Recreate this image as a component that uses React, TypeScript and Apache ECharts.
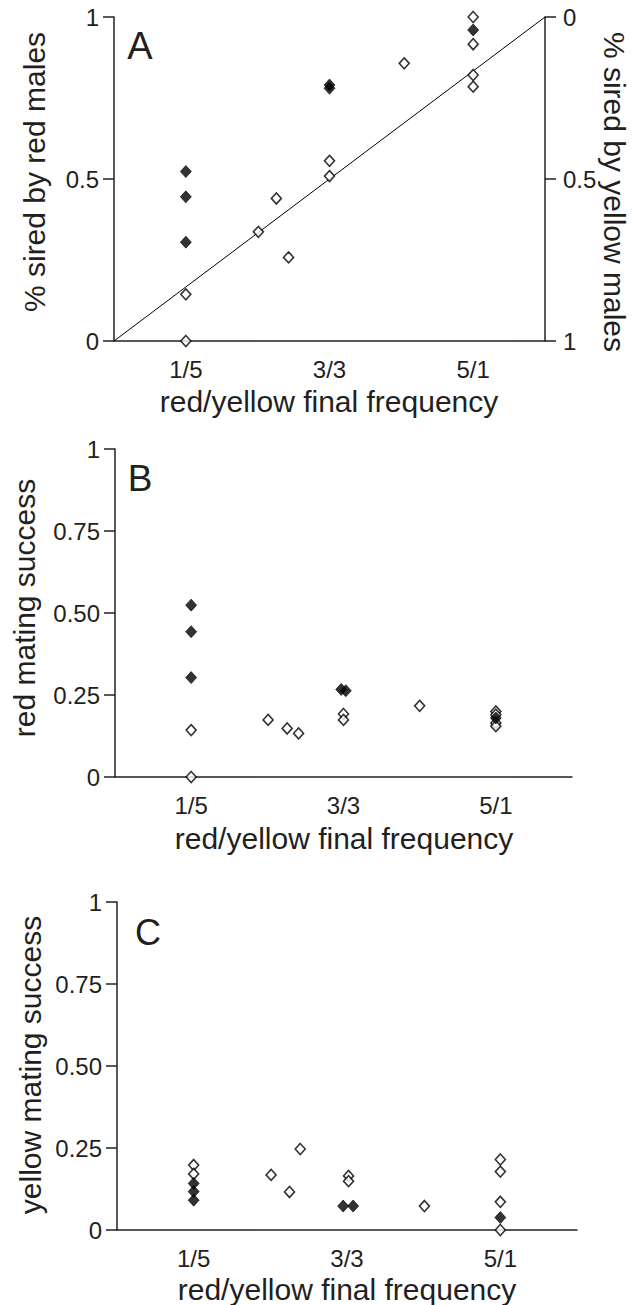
import React, { useEffect, useRef } from "react";
import * as echarts from "echarts";

// x positions: 1 = "1/5", 3 = "3/3", 5 = "5/1" (red/yellow final frequency)
const xTickLabels: Record<number, string> = { 1: "1/5", 3: "3/3", 5: "5/1" };

// Panel A: % sired by red males
const aFilled: number[][] = [
  [1, 0.523], [1, 0.445], [1, 0.305],
  [3, 0.79], [3, 0.78],
  [5, 0.96],
];
const aOpen: number[][] = [
  [1, 0.144], [1, 0],
  [2.01, 0.337], [2.26, 0.44], [2.43, 0.258],
  [3, 0.556], [3, 0.509],
  [4.04, 0.857],
  [5, 1.0], [5, 0.916], [5, 0.821], [5, 0.785],
];
const expectedLine: number[][] = [[0, 0], [6, 1]];

// Panel B: red mating success
const bFilled: number[][] = [
  [1, 0.524], [1, 0.443], [1, 0.303],
  [2.97, 0.267], [3.03, 0.263],
  [5, 0.18],
];
const bOpen: number[][] = [
  [1, 0.143], [1, 0],
  [2.01, 0.174], [2.26, 0.148], [2.41, 0.133],
  [3, 0.192], [3, 0.174],
  [4.0, 0.217],
  [5, 0.2], [5, 0.19], [5, 0.165], [5, 0.155],
];

// Panel C: yellow mating success
const cFilled: number[][] = [
  [1, 0.142], [1, 0.117], [1, 0.091],
  [2.95, 0.073], [3.08, 0.073],
  [5, 0.038],
];
const cOpen: number[][] = [
  [1, 0.198], [1, 0.171],
  [2.01, 0.168], [2.25, 0.116], [2.39, 0.247],
  [3.02, 0.165], [3.02, 0.149],
  [4.01, 0.073],
  [5, 0.215], [5, 0.178], [5, 0.086], [5, 0],
];

const FONT = "'Liberation Sans', Arial, Helvetica, sans-serif";
const INK = "#231f20";
const AXIS = "#222222";

function xAxisFor(gridIndex: number) {
  return {
    type: "value",
    gridIndex,
    min: 0,
    max: 6,
    interval: 1,
    axisLine: { show: true, lineStyle: { color: AXIS, width: 1.5 } },
    axisTick: { show: false },
    splitLine: { show: false },
    axisLabel: {
      margin: 16,
      fontSize: 24,
      fontFamily: FONT,
      color: INK,
      formatter: (v: number) => xTickLabels[v] || "",
    },
  };
}

function yAxisFor(gridIndex: number, interval: number, quarter: boolean, extra: any = {}) {
  return {
    type: "value",
    gridIndex,
    min: 0,
    max: 1,
    interval,
    axisLine: { show: true, lineStyle: { color: AXIS, width: 1.5 } },
    axisTick: { show: true, inside: false, length: 11, lineStyle: { color: AXIS, width: 1.5 } },
    splitLine: { show: false },
    axisLabel: {
      margin: 15,
      fontSize: 24,
      fontFamily: FONT,
      color: INK,
      formatter: (v: number) =>
        v === 0 ? "0" : v === 1 ? "1" : quarter ? v.toFixed(2) : String(v),
    },
    ...extra,
  };
}

const openStyle = { color: "#ffffff", borderColor: "#000000", borderWidth: 1.6 };
const filledStyle = { color: "#000000", borderColor: "#000000", borderWidth: 0.8 };

function scatter(data: number[][], xi: number, yi: number, filled: boolean) {
  return {
    type: "scatter",
    xAxisIndex: xi,
    yAxisIndex: yi,
    data,
    symbol: "diamond",
    symbolSize: filled ? [11, 12] : [10, 11],
    itemStyle: filled ? filledStyle : openStyle,
    clip: false,
    z: filled ? 4 : 3,
  };
}

function txt(text: string, x: number, y: number, size: number, rotation = 0) {
  return {
    type: "text",
    x,
    y,
    rotation,
    style: {
      text,
      fill: INK,
      font: `${size}px ${FONT}`,
      align: "center",
      verticalAlign: "middle",
    },
  };
}

export default function App() {
  const ref = useRef<HTMLDivElement>(null);
  useEffect(() => {
    if (!ref.current) return;
    const chart = echarts.init(ref.current, null, { renderer: "svg" });
    chart.setOption({
      animation: false,
      backgroundColor: "#ffffff",
      grid: [
        { left: 114, top: 17, width: 431, height: 324 },
        { left: 115, top: 449, width: 457, height: 328 },
        { left: 117, top: 902, width: 460, height: 328 },
      ],
      xAxis: [xAxisFor(0), xAxisFor(1), xAxisFor(2)],
      yAxis: [
        yAxisFor(0, 0.5, false),
        yAxisFor(0, 0.5, false, {
          position: "right",
          inverse: true,
          axisLabel: {
            margin: 18,
            fontSize: 24,
            fontFamily: FONT,
            color: INK,
            formatter: (v: number) => String(v),
          },
        }),
        yAxisFor(1, 0.25, true),
        yAxisFor(2, 0.25, true),
      ],
      series: [
        {
          type: "line",
          xAxisIndex: 0,
          yAxisIndex: 0,
          data: expectedLine,
          symbol: "none",
          lineStyle: { color: "#000", width: 1 },
          z: 2,
        },
        scatter(aOpen, 0, 0, false),
        scatter(aFilled, 0, 0, true),
        scatter(bOpen, 1, 2, false),
        scatter(bFilled, 1, 2, true),
        scatter(cOpen, 2, 3, false),
        scatter(cFilled, 2, 3, true),
      ],
      graphic: [
        txt("A", 140, 46, 38),
        txt("B", 140, 478, 37),
        txt("C", 148, 932, 36),
        txt("% sired by red males", 34, 172, 30, Math.PI / 2),
        txt("% sired by yellow males", 614, 192, 30, -Math.PI / 2),
        txt("red mating success", 24, 608, 30, Math.PI / 2),
        txt("yellow mating success", 30, 1065, 30, Math.PI / 2),
        txt("red/yellow final frequency", 329, 401, 30),
        txt("red/yellow final frequency", 344, 838, 30),
        txt("red/yellow final frequency", 347, 1289, 30),
      ],
    });
    return () => chart.dispose();
  }, []);
  return (
    <div
      ref={ref}
      style={{ position: "absolute", left: 0, top: 0, width: 633, height: 1305, background: "#fff" }}
    />
  );
}
